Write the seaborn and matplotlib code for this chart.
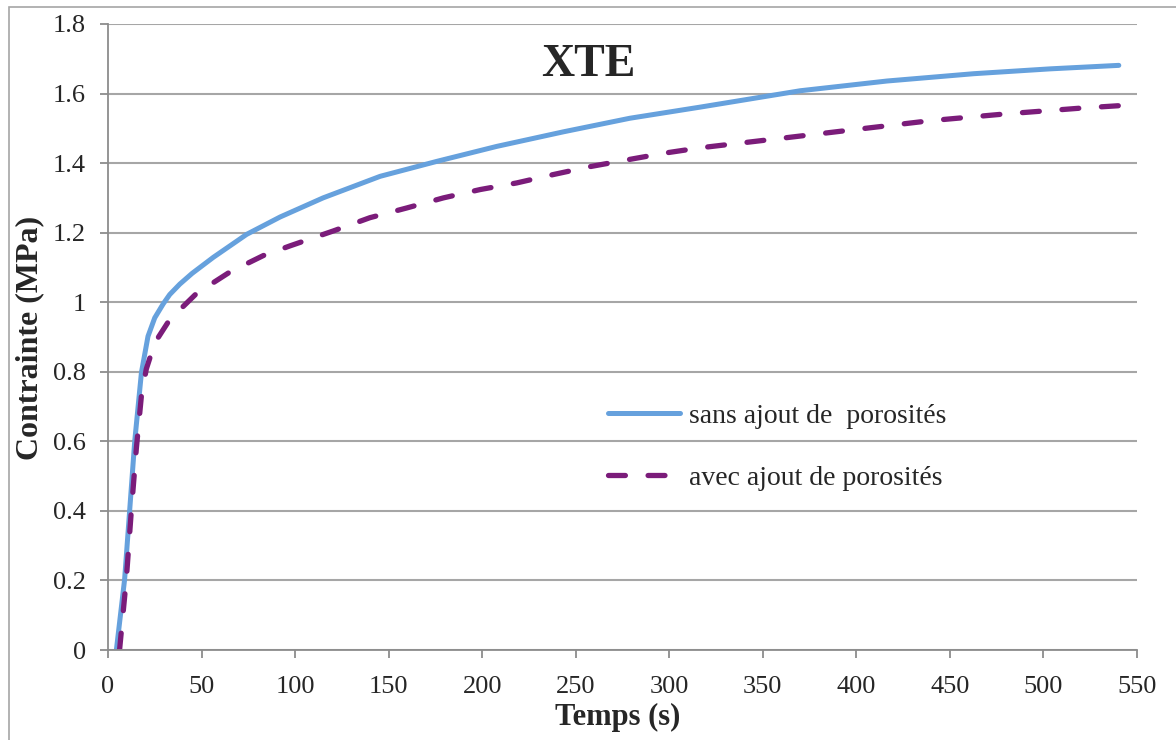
import pandas as pd
import matplotlib.pyplot as plt
import seaborn as sns
from matplotlib.patches import Rectangle

# Données (temps en s, contrainte en MPa)
t_sans = [4.5, 8.9, 11.6, 14.3, 17.9, 21.4, 25.0, 29.5, 33.0, 38.4, 45.0, 56.3,
          74.1, 92.0, 115.0, 145.5, 175.8, 207.8, 243.5, 279.0, 316.6, 370.0,
          416.4, 462.7, 503.7, 540.3]
v_sans = [0.0, 0.203, 0.401, 0.600, 0.798, 0.902, 0.955, 0.995, 1.022, 1.052,
          1.083, 1.129, 1.195, 1.245, 1.300, 1.362, 1.405, 1.448, 1.490, 1.529,
          1.561, 1.608, 1.636, 1.657, 1.671, 1.681]

t_avec = [6.2, 9.8, 12.5, 15.2, 17.9, 20.5, 25.0, 33.0, 47.3, 65.2, 83.0, 97.3,
          120.5, 140.0, 159.7, 179.3, 199.0, 218.5, 238.0, 257.8, 278.2, 297.9,
          316.6, 359.4, 398.6, 439.6, 478.8, 519.8, 540.3]
v_avec = [0.0, 0.203, 0.401, 0.581, 0.732, 0.808, 0.883, 0.950, 1.025, 1.087,
          1.134, 1.162, 1.205, 1.243, 1.271, 1.300, 1.324, 1.343, 1.367, 1.390,
          1.410, 1.429, 1.444, 1.471, 1.496, 1.522, 1.541, 1.558, 1.565]

labels = ['sans ajout de  porosités', 'avec ajout de porosités']
x_ticks = list(range(0, 551, 50))
y_ticks = [0, 0.2, 0.4, 0.6, 0.8, 1.0, 1.2, 1.4, 1.6, 1.8]
y_ticklabels = ['0', '0.2', '0.4', '0.6', '0.8', '1', '1.2', '1.4', '1.6', '1.8']

df_sans = pd.DataFrame({'Temps': t_sans, 'Contrainte': v_sans})
df_avec = pd.DataFrame({'Temps': t_avec, 'Contrainte': v_avec})

sns.set_style('white')
plt.rcParams['font.family'] = ['Liberation Serif', 'DejaVu Serif']

gris = '#8c8c8c'
fig = plt.figure(figsize=(11.76, 7.4), dpi=100)
ax = fig.add_axes([0.0918, 0.1216, 0.875, 0.846])

# cadre extérieur du graphique
fig.patches.append(Rectangle((9 / 1176, -0.1), 1.2, 1 - 7 / 740 + 0.1,
                             transform=fig.transFigure, fill=False,
                             edgecolor='#a6a6a6', lw=1.2))

sns.lineplot(data=df_sans, x='Temps', y='Contrainte', ax=ax, color='#66a1dd',
             lw=3.6, sort=False, estimator=None, label=labels[0],
             solid_capstyle='round', solid_joinstyle='round')
sns.lineplot(data=df_avec, x='Temps', y='Contrainte', ax=ax, color='#7b1c7a',
             lw=3.8, sort=False, estimator=None, label=labels[1],
             dash_capstyle='round', dash_joinstyle='round')
ax.lines[1].set_dashes([3.2, 4.3])

ax.set_xlim(0, 550)
ax.set_ylim(0, 1.8)
ax.set_xticks(x_ticks)
ax.set_xticklabels([str(v) for v in x_ticks])
ax.set_yticks(y_ticks)
ax.set_yticklabels(y_ticklabels)
ax.tick_params(axis='both', labelsize=19, color=gris, length=6, width=1.3,
               direction='out', left=True, bottom=True)
ax.tick_params(axis='x', pad=13)
ax.tick_params(axis='y', pad=10)

ax.yaxis.grid(True, color='#a6a6a6', lw=1.5)
ax.xaxis.grid(False)
for s in ['top', 'right']:
    ax.spines[s].set_visible(False)
for s in ['left', 'bottom']:
    ax.spines[s].set_color(gris)
    ax.spines[s].set_linewidth(1.3)

ax.set_xlabel('')
ax.set_ylabel('')
fig.text(0.525, 0.031, 'Temps (s)', ha='center', va='center',
         fontsize=22, fontweight='bold')
fig.text(0.0255, 0.543, 'Contrainte (MPa)', ha='center', va='center',
         rotation=90, fontsize=23, fontweight='bold')
fig.text(0.5, 0.912, 'XTE', ha='center', va='center',
         fontsize=33, fontweight='bold')

ax.legend(loc='center left', bbox_to_anchor=(0.486, 0.324), frameon=False,
          fontsize=20, handlelength=2.6, handletextpad=0.3, labelspacing=1.3,
          borderpad=0, borderaxespad=0)

fig.savefig('out.png', dpi=100)
